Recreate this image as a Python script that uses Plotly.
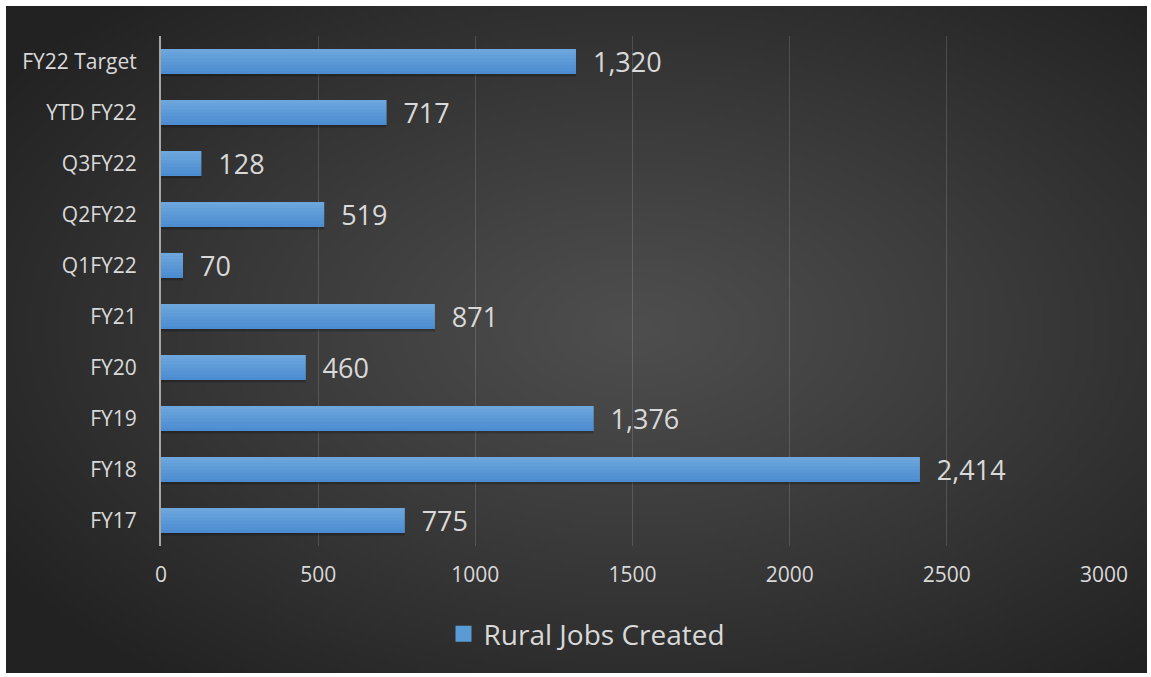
import base64, struct, zlib
import numpy as np
import plotly.graph_objects as go

categories = ["FY17", "FY18", "FY19", "FY20", "FY21", "Q1FY22", "Q2FY22", "Q3FY22", "YTD FY22", "FY22 Target"]
rural_jobs = [775, 2414, 1376, 460, 871, 70, 519, 128, 717, 1320]
x_ticks = [0, 500, 1000, 1500, 2000, 2500, 3000]
series_name = "Rural Jobs Created"

W, H = 1151, 677
L, R, T, B = 161, 47, 36, 131
PW, PH = W - L - R, H - T - B

# radial gradient background image
iw, ih = 288, 168
yy, xx = np.mgrid[0:ih, 0:iw]
dx = (xx - iw * 0.55) / (iw / 2)
dy = (yy - ih * 0.48) / (ih / 2)
r = np.clip(np.sqrt(dx ** 2 + dy ** 2) / 1.35, 0, 1)
val = (78 - (78 - 34) * r ** 1.1).astype(np.uint8)
img = np.stack([val, val, val], axis=-1)
raw = b"".join(b"\x00" + img[i].tobytes() for i in range(ih))
def chunk(t, d):
    c = struct.pack(">I", len(d)) + t + d
    return c + struct.pack(">I", zlib.crc32(t + d) & 0xffffffff)
png = b"\x89PNG\r\n\x1a\n" + chunk(b"IHDR", struct.pack(">IIBBBBB", iw, ih, 8, 2, 0, 0, 0)) + \
      chunk(b"IDAT", zlib.compress(raw, 9)) + chunk(b"IEND", b"")
src = "data:image/png;base64," + base64.b64encode(png).decode()

bx0, by0, bx1, by1 = 6, 6, 1147, 673
img_x = (bx0 - L) / PW
img_y = (H - B - by0) / PH
img_sx = (bx1 - bx0) / PW
img_sy = (by1 - by0) / PH

FONT = "Open Sans"
TXT = "#d9d9d9"
BLUE = "#5b9bd5"
BAR_W = 0.49

fig = go.Figure()
# soft shadow
for k, a in [(0.06, 0.10), (0.035, 0.16)]:
    fig.add_trace(go.Bar(
        y=categories, x=rural_jobs, orientation="h", showlegend=False, hoverinfo="skip",
        marker=dict(color=f"rgba(0,0,0,{a})", line=dict(width=0)),
        width=BAR_W, offset=-BAR_W / 2 - k,
    ))
# main bar with labels
fig.add_trace(go.Bar(
    y=categories, x=rural_jobs, orientation="h",
    name=series_name, showlegend=False,
    marker=dict(color=BLUE, line=dict(width=0)),
    width=BAR_W, offset=-BAR_W / 2,
    text=["\u00a0\u00a0" + f"{v:,}" for v in rural_jobs],
    textposition="outside",
    constraintext="none",
    textfont=dict(family=FONT, size=27, color=TXT),
    cliponaxis=False,
))
# vertical gradient slices (bottom darker -> top lighter)
n = 8
c0 = np.array([0x4a, 0x8a, 0xd0])
c1 = np.array([0x6e, 0xa8, 0xdd])
sw = BAR_W / n
for i in range(n):
    c = (c0 + (c1 - c0) * (i + 0.5) / n).round().astype(int)
    fig.add_trace(go.Bar(
        y=categories, x=rural_jobs, orientation="h", showlegend=False, hoverinfo="skip",
        marker=dict(color=f"rgb({c[0]},{c[1]},{c[2]})", line=dict(width=0)),
        width=sw * 1.02, offset=-BAR_W / 2 + i * sw,
    ))
# legend entry with a larger square swatch
fig.add_trace(go.Scatter(
    x=[None], y=[None], mode="markers", name=series_name,
    marker=dict(symbol="square", size=17, color=BLUE),
    showlegend=True, hoverinfo="skip",
))

fig.update_layout(
    width=W, height=H,
    margin=dict(l=L, r=R, t=T, b=B),
    paper_bgcolor="white",
    plot_bgcolor="rgba(0,0,0,0)",
    font=dict(family=FONT, color=TXT),
    barmode="overlay",
    images=[dict(source=src, xref="paper", yref="paper", x=img_x, y=img_y,
                 sizex=img_sx, sizey=img_sy, xanchor="left", yanchor="top",
                 sizing="stretch", layer="below")],
    xaxis=dict(range=[0, 3000], tickvals=x_ticks, ticktext=[str(t) for t in x_ticks],
               showgrid=True, gridcolor="rgba(255,255,255,0.14)", gridwidth=1,
               zeroline=False, showline=False, ticks="",
               ticklabelstandoff=14,
               tickfont=dict(family=FONT, size=21, color=TXT)),
    yaxis=dict(categoryorder="array", categoryarray=categories,
               showgrid=False, zeroline=False, showline=True, linecolor="#a6a6a6", linewidth=2,
               ticks="", ticklabelstandoff=18,
               tickfont=dict(family=FONT, size=21, color=TXT)),
    showlegend=True,
    legend=dict(orientation="h", x=(587 - L) / PW, xanchor="center", y=(H - B - 634) / PH, yanchor="middle",
                font=dict(family=FONT, size=28, color=TXT), bgcolor="rgba(0,0,0,0)",
                itemsizing="trace"),
)

fig.write_html("out.html")
